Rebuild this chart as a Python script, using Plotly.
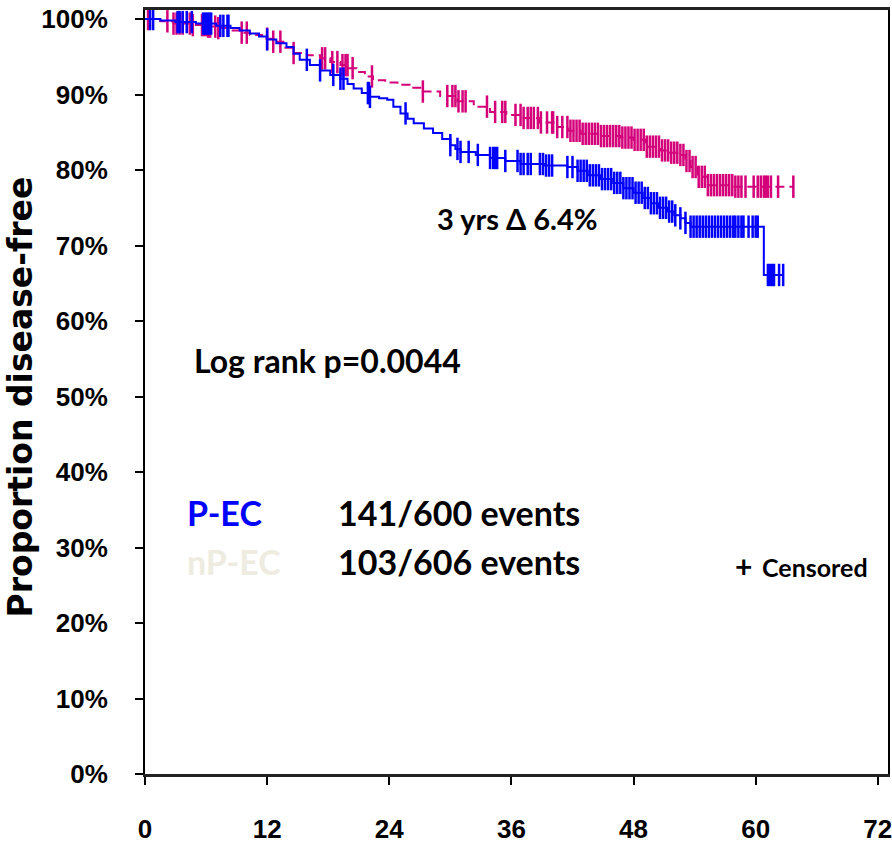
import numpy as np
import plotly.graph_objects as go

# Curva P-EC (azul): tempos em meses e proporção livre de doença (%)
pec_time = [0, 1.5, 3.0, 5.0, 7.0, 8.4, 9.3, 10.3, 11.2, 12.0, 12.9, 13.9, 14.6, 15.2,
            16.2, 17.2, 18.2, 19.2, 19.9, 20.5, 21.3, 22.1, 23.0, 23.8, 24.4, 25.1, 25.8,
            26.4, 27.4, 28.3, 29.2, 30.0, 30.5, 31.0, 32.5, 33.9, 35.4, 36.9, 39.2, 41.5,
            42.5, 43.5, 44.8, 46.0, 47.0, 48.0, 48.9, 49.7, 50.5, 51.3, 52.0, 52.6, 53.1,
            53.6, 60.8, 62.7]
pec_surv = [100, 99.8, 99.6, 99.4, 99.1, 98.8, 98.5, 98.1, 97.7, 97.3, 96.8, 96.3, 95.4,
            94.6, 93.9, 93.2, 92.6, 92.1, 91.4, 90.8, 90.2, 89.7, 89.5, 89.3, 88.4, 87.5,
            86.8, 86.2, 85.5, 84.9, 84.1, 83.3, 82.8, 82.4, 82.0, 81.6, 81.2, 80.8, 80.6,
            80.4, 79.9, 79.3, 78.8, 78.3, 77.6, 77.0, 76.3, 75.6, 75.0, 74.5, 74.0, 73.6,
            73.0, 72.5, 66.1, 66.1]
pec_censored = [0.5, 0.8, 3.2, 3.4, 3.7, 4.1, 4.6, 5.7, 5.9, 6.1, 6.3, 6.5, 7.4, 7.7, 8.1,
                8.2, 12.0, 15.9, 17.2, 18.5, 19.2, 19.5, 21.9, 22.0, 22.1, 25.6, 30.0, 30.7,
                31.0, 31.8, 32.7, 33.9, 34.2, 34.4, 34.6, 35.4, 36.6, 36.9, 37.2, 37.6, 37.9,
                38.8, 39.1, 39.4, 39.7, 40.0, 41.5, 42.0, 42.5, 42.8, 43.1, 43.4, 43.7, 44.0,
                44.3, 44.6, 44.9, 45.2, 45.5, 45.8, 46.1, 46.4, 46.7, 47.0, 47.3, 47.6, 47.9,
                48.2, 48.5, 48.8, 49.1, 49.4, 49.7, 50.0, 50.3, 50.6, 50.9, 51.2, 51.5, 51.8,
                52.1, 52.6, 53.1, 53.6, 53.9, 54.2, 54.5, 54.8, 55.1, 55.4, 55.7, 56.0, 56.3,
                56.6, 56.9, 57.2, 57.5, 57.8, 58.0, 58.3, 58.6, 58.8, 59.3, 59.7, 60.0, 60.2,
                61.2, 61.4, 61.6, 61.8, 62.3, 62.7]

# Curva nP-EC (magenta)
npec_time = [0, 1.5, 2.8, 4.5, 6.1, 7.2, 8.4, 9.3, 10.3, 11.5, 12.6, 13.6, 14.6, 15.9,
             17.2, 18.2, 19.2, 20.0, 20.8, 21.6, 22.4, 23.6, 24.8, 26.0, 27.3, 29.0, 30.7,
             32.3, 33.9, 35.5, 37.2, 38.8, 40.5, 41.6, 42.8, 44.7, 46.7, 48.0, 49.2, 50.6,
             51.6, 52.6, 53.1, 53.6, 54.3, 55.3, 57.8, 63.7]
npec_surv = [100, 99.7, 99.4, 99.2, 99.0, 98.8, 98.5, 98.2, 97.9, 97.4, 97.0, 96.2, 95.5,
             95.2, 94.8, 94.3, 93.9, 93.5, 93.0, 92.4, 91.9, 91.6, 91.3, 90.9, 90.4, 89.8,
             89.1, 88.4, 87.7, 87.3, 86.9, 86.3, 85.7, 85.2, 84.8, 84.5, 84.3, 84.0, 83.1,
             82.6, 82.3, 82.0, 81.2, 80.4, 79.1, 78.0, 77.8, 77.8]
npec_censored = [0.3, 2.2, 2.8, 3.1, 3.4, 3.7, 4.4, 4.7, 5.6, 5.8, 6.0, 6.2, 6.4, 6.9, 7.2,
                 9.5, 10.0, 12.0, 12.6, 13.3, 14.6, 17.4, 17.7, 18.4, 18.9, 19.4, 19.7, 19.9,
                 20.4, 22.3, 27.3, 29.7, 30.2, 30.5, 30.8, 31.2, 31.5, 33.6, 34.4, 35.1, 35.4,
                 36.4, 36.9, 37.2, 37.6, 37.9, 38.2, 38.6, 38.9, 39.5, 40.0, 40.1, 40.5, 41.0,
                 41.5, 41.8, 42.1, 42.4, 42.7, 43.0, 43.3, 43.6, 43.9, 44.2, 44.5, 44.8, 45.1,
                 45.4, 45.7, 46.0, 46.3, 46.6, 46.9, 47.2, 47.5, 47.8, 48.1, 48.4, 48.7, 49.0,
                 49.3, 49.6, 49.9, 50.2, 50.5, 50.8, 51.1, 51.4, 51.7, 52.0, 52.3, 52.6, 52.9,
                 53.2, 53.5, 53.8, 54.1, 54.4, 54.7, 55.0, 55.3, 55.6, 55.9, 56.2, 56.5, 56.8,
                 57.1, 57.4, 57.7, 58.0, 58.3, 58.6, 59.0, 59.8, 60.2, 60.5, 60.8, 61.0, 61.2,
                 61.5, 62.2, 63.7]

x_ticks = [0, 12, 24, 36, 48, 60, 72]
y_ticks = [0, 10, 20, 30, 40, 50, 60, 70, 80, 90, 100]
y_tick_labels = ['0%', '10%', '20%', '30%', '40%', '50%', '60%', '70%', '80%', '90%', '100%']

BLUE = '#0000FF'
MAGENTA = '#D4007A'
TICK_FONT = 'Liberation Sans, Arial, sans-serif'
TEXT_FONT = 'Lato, Open Sans, sans-serif'


def surv_at(times, surv, pts):
    # valor da curva em degrau nos tempos censurados
    idx = np.searchsorted(np.array(times), np.array(pts), side='right') - 1
    return [surv[i] for i in idx]


def main():
    fig = go.Figure()

    fig.add_trace(go.Scatter(x=npec_time, y=npec_surv, mode='lines', line_shape='hv',
                             line=dict(color=MAGENTA, width=2, dash='9px,5px'),
                             showlegend=False, hoverinfo='skip'))
    fig.add_trace(go.Scatter(x=npec_censored, y=surv_at(npec_time, npec_surv, npec_censored),
                             mode='markers', showlegend=False,
                             marker=dict(symbol='line-ns', size=16,
                                         line=dict(color=MAGENTA, width=2.5))))
    fig.add_trace(go.Scatter(x=pec_time, y=pec_surv, mode='lines', line_shape='hv',
                             line=dict(color=BLUE, width=2),
                             showlegend=False, hoverinfo='skip'))
    fig.add_trace(go.Scatter(x=pec_censored, y=surv_at(pec_time, pec_surv, pec_censored),
                             mode='markers', showlegend=False,
                             marker=dict(symbol='line-ns', size=16,
                                         line=dict(color=BLUE, width=2.5))))

    def txt(x, y, text, size, color='black', xref='x', anchor='left', angle=0, family=TEXT_FONT):
        fig.add_annotation(x=x, y=y, xref=xref, yref='y', text=text, showarrow=False,
                           xanchor=anchor, yanchor='middle', textangle=angle,
                           font=dict(family=family, size=size, color=color, weight='bold'))

    txt(36.6, 73.6, '3 yrs Δ 6.4%', 29, anchor='center')
    txt(4.6, 54.8, 'Log rank p=0.0044', 32)
    txt(3.9, 34.7, 'P-EC', 34, color=BLUE)
    txt(18.8, 34.7, '141/600 events', 34)
    txt(3.9, 28.1, 'nP-EC', 34, color='#EEECE1')
    txt(18.8, 28.1, '103/606 events', 34)
    txt(57.8, 27.6, '+', 30)
    txt(60.4, 27.4, 'Censored', 25)
    # título do eixo y
    txt(-0.168, 49.9, 'Proportion disease-free', 33, xref='paper', anchor='center',
        angle=-90, family='DejaVu Sans, sans-serif')

    fig.update_layout(
        width=892, height=843,
        margin=dict(l=145, r=4, t=10, b=69),
        plot_bgcolor='white', paper_bgcolor='white',
    )
    fig.update_xaxes(range=[0, 73.0], tickvals=x_ticks, showgrid=False, zeroline=False,
                     showline=True, linecolor='#222', linewidth=3, mirror=True,
                     ticks='outside', ticklen=8, tickcolor='black', tickwidth=1.5,
                     ticklabelstandoff=22, ticklabeloverflow='allow', automargin=False,
                     tickfont=dict(family=TICK_FONT, size=26, color='black', weight='bold'))
    fig.update_yaxes(range=[0, 101.2], tickvals=y_ticks, ticktext=y_tick_labels,
                     showgrid=False, zeroline=False, showline=True, linecolor='black',
                     linewidth=2, mirror=True, automargin=False,
                     ticks='outside', ticklen=8, tickcolor='black', tickwidth=1.5,
                     ticklabelstandoff=22,
                     tickfont=dict(family=TICK_FONT, size=26, color='black', weight='bold'))

    # sem margem na página para a figura ocupar a janela toda
    fig.write_html('out.html', config={'displayModeBar': False},
                   post_script="document.body.style.margin='0';")


if (__name__ == '__main__'):
    main()
